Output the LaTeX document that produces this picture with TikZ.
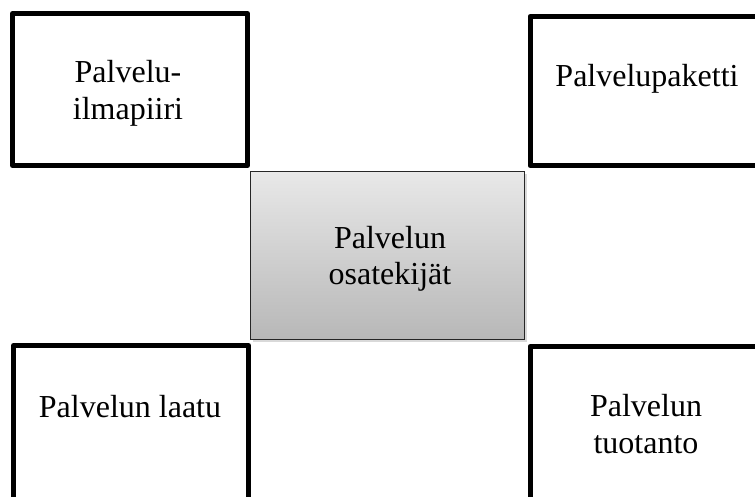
\documentclass[tikz,border=0pt]{standalone}
\usepackage{fontspec}
\setmainfont{Liberation Serif}
\usetikzlibrary{shadows}
\begin{document}
\begin{tikzpicture}[x=1pt,y=-1pt,
  framebox/.style={draw=black, line width=5pt, line join=round, fill=white, inner sep=0pt},
  centerbox/.style={draw=black!85, line width=1pt, top color=black!9, bottom color=black!28,
    inner sep=0pt, drop shadow={opacity=0.3, shadow xshift=2pt, shadow yshift=-3pt}},
  lbl/.style={inner sep=0pt, align=center, font=\fontsize{32}{36.5}\selectfont}]
\useasboundingbox (0,0) rectangle (755,497);
\clip (0,0) rectangle (755,497);
% outer boxes
\node[framebox, minimum width=235pt, minimum height=152pt] (tl) at (130,89.5) {};
\node[framebox, minimum width=235pt, minimum height=149pt] (tr) at (647.5,91) {};
\node[framebox, minimum width=235pt, minimum height=159.5pt] (bl) at (131,425.25) {};
\node[framebox, minimum width=235pt, minimum height=158.5pt] (br) at (647.5,425.75) {};
% centre box
\node[centerbox, minimum width=274pt, minimum height=167.5pt] (c) at (387.5,255.25) {};
% labels
\node[lbl] (tltext) at (128,93.5) {Palvelu-\\ilmapiiri};
\node[lbl] (trtext) at (647,79.2) {Palvelupaketti};
\node[lbl] (ctext) at (390,259) {Palvelun\\osatekijät};
\node[lbl] (bltext) at (130,407) {Palvelun laatu};
\node[lbl] (brtext) at (646,424) {Palvelun\\tuotanto};
\end{tikzpicture}
\end{document}
